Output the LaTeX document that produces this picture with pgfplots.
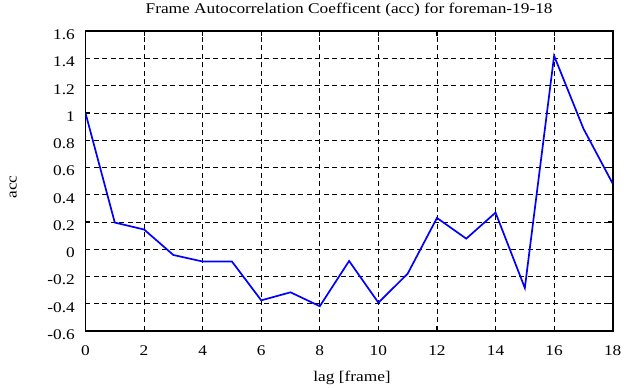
\documentclass[border=0pt]{standalone}
\usepackage{fontspec}
\setmainfont{Liberation Serif}[FakeStretch=1.17]
\usepackage{pgfplots}
\pgfplotsset{compat=1.18}
\newcommand\reffont{\fontsize{14.8bp}{17bp}\selectfont}
\begin{document}
\reffont
\begin{tikzpicture}
\begin{axis}[
  at={(0,0)}, anchor=south west,
  scale only axis,
  width=527.2bp, height=299.7bp,
  xmin=0, xmax=18, ymin=-0.6, ymax=1.6,
  xtick={0,2,...,18},
  ytick={-0.6,-0.4,...,1.6},
  tick align=inside,
  major tick length=5bp,
  tick style={black, line width=1.1bp},
  axis line style={black, line width=1.6bp},
  grid=major,
  major grid style={black, line width=0.9bp, dash pattern=on 5bp off 3.5bp},
  /pgf/number format/assume math mode=true,
  /pgf/number format/fixed,
  /pgf/number format/precision=1,
  ticklabel style={font=\reffont, inner sep=0pt},
  xticklabel style={anchor=base, yshift=-24.8bp},
  yticklabel style={anchor=base east, xshift=-10.5bp, yshift=-8.3bp},
  title={Frame Autocorrelation Coefficent (acc) for foreman-19-18},
  title style={font=\reffont, inner sep=0pt, at={(axis description cs:0.5,1.04)}, anchor=base},
  xlabel={lag [frame]},
  ylabel={acc},
  label style={font=\reffont, inner sep=0pt},
  xlabel style={at={(axis description cs:0.5055,-0.1678)}, anchor=base},
  ylabel style={at={(axis description cs:-0.1305,0.48)}, anchor=base},
]
\addplot[blue, line width=1.7bp] coordinates {
(0,1.0) (1,0.196) (2,0.145) (3,-0.042) (4,-0.09) (5,-0.09) (6,-0.375)
(7,-0.316) (8,-0.418) (9,-0.086) (10,-0.392) (11,-0.179) (12,0.23)
(13,0.078) (14,0.269) (15,-0.284) (16,1.42) (17,0.886) (18,0.482)
};
\end{axis}
\pgfresetboundingbox
\useasboundingbox (-85.5bp,-56.3bp) rectangle (555.5bp,331bp);
\end{tikzpicture}
\end{document}
